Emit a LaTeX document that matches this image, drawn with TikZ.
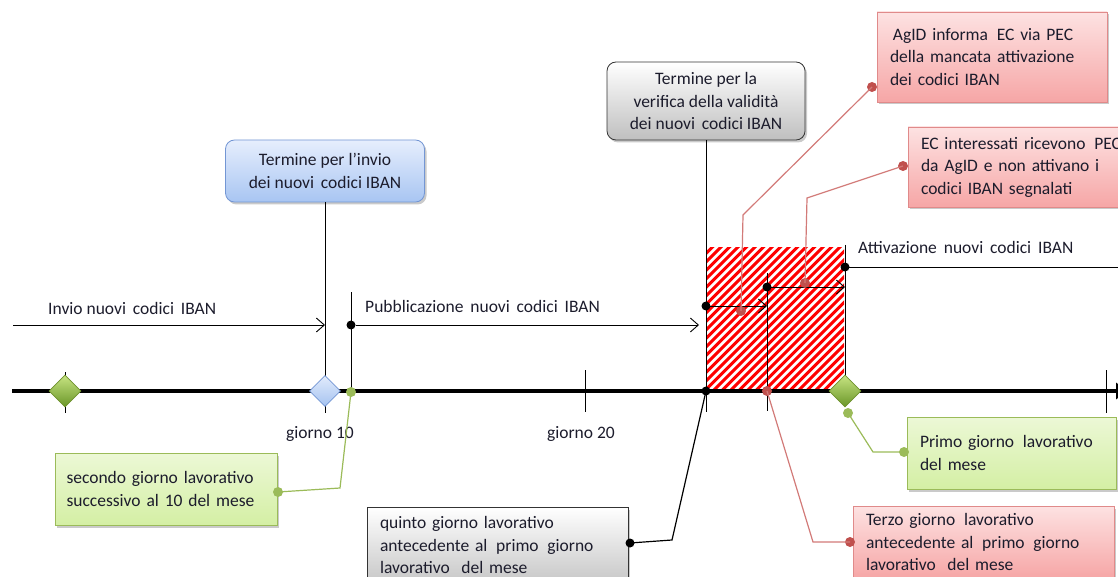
\documentclass[tikz,border=0pt]{standalone}
\usepackage{fontspec}
\setmainfont{Carlito}
\usetikzlibrary{shapes.geometric,shadows,arrows.meta}
\definecolor{txtc}{HTML}{1C1C2C}
\definecolor{redc}{HTML}{C0504D}
\definecolor{redl}{HTML}{D27A78}
\definecolor{greenc}{HTML}{9BBB59}
\definecolor{blueb}{HTML}{7396D4}
\definecolor{redb}{HTML}{E08A8A}
\definecolor{bluet}{HTML}{E6EEFD}
\definecolor{bluebt}{HTML}{A8C5F2}
\definecolor{greent}{HTML}{ECF8D6}
\definecolor{greenbt}{HTML}{D4EFA4}
\definecolor{redt}{HTML}{FDE2E2}
\definecolor{redbt}{HTML}{F6A6A6}
\definecolor{dgt}{HTML}{C8E482}
\definecolor{dgb}{HTML}{699628}
\definecolor{dgd}{HTML}{6E912D}
\definecolor{dbt}{HTML}{E2EBFC}
\definecolor{dbb}{HTML}{A5C3F0}
\tikzset{
  every node/.style={text=txtc},
  shadowed/.style={drop shadow={shadow xshift=2pt,shadow yshift=-2.5pt,opacity=0.35,fill=black!60}},
  bluebox/.style={draw=blueb,line width=0.8pt,rounded corners=9pt,top color=bluet,bottom color=bluebt,shadowed,align=center,inner sep=2pt},
  graybox/.style={draw=black!80,line width=0.8pt,rounded corners=9pt,top color=white,bottom color=black!25,shadowed,align=center,inner sep=2pt},
  greenbox/.style={draw=greenc,line width=0.8pt,top color=greent,bottom color=greenbt,shadowed,align=left,inner xsep=13pt,inner ysep=2pt},
  redbox/.style={draw=redb,line width=0.8pt,top color=redt,bottom color=redbt,shadowed,align=left,inner xsep=13pt,inner ysep=2pt},
  plainbox/.style={draw=black!80,line width=0.8pt,top color=white,bottom color=black!22,shadowed,align=left,inner xsep=13pt,inner ysep=2pt},
  gdiam/.style={diamond,aspect=1,minimum width=32pt,minimum height=32pt,inner sep=0pt,draw=dgd,line width=0.6pt,top color=dgt,bottom color=dgb},
  bdiam/.style={diamond,aspect=1,minimum width=31pt,minimum height=31pt,inner sep=0pt,draw=blueb,line width=0.6pt,top color=dbt,bottom color=dbb},
  bdot/.style={circle,fill=black,inner sep=0pt,minimum size=9pt},
  rdot/.style={circle,fill=redc,inner sep=0pt,minimum size=10pt},
  gdot/.style={circle,fill=greenc,inner sep=0pt,minimum size=10pt},
  thin/.style={line width=0.9pt,draw=black},
  oarrow/.style={thin,-{Straight Barb[length=8pt,width=14pt]}},
  rconn/.style={line width=1.2pt,draw=redl},
  gconn/.style={line width=1.2pt,draw=greenc},
  bconn/.style={line width=1.2pt,draw=black},
  lbl/.style={inner sep=0pt,anchor=west},
}
\begin{document}
\begin{tikzpicture}[x=1pt,y=-1pt,font=\fontsize{17.5}{22.5}\selectfont]
\useasboundingbox (0,0) rectangle (1118,577);
\clip (0,0) rectangle (1118,577);

% hatched area
\begin{scope}
  \clip (707,248) rectangle (844,389);
  \foreach \i in {0,...,50}{
    \draw[red,line width=3pt] (480+\i*8.5,420) -- ++(220,-220);
  }
\end{scope}

% main axis
\draw[line width=3.2pt,-{Latex[length=14pt,width=18pt]}] (12,391) -- (1130,391);

% ticks
\draw[thin] (65,372) -- (65,413);
\draw[thin] (585,370) -- (585,412);
\draw[thin] (1106,370) -- (1106,413);

% boxes
\node[bluebox,minimum width=199pt,minimum height=62pt] (tblue) at (325,171) {Termine per l’invio\\dei nuovi\, codici IBAN};
\node[graybox,minimum width=198pt,minimum height=78pt] (tgray) at (706,101) {Termine per la\\verifica della validità\\dei nuovi\, codici IBAN};
\node[redbox,minimum width=230pt,minimum height=90pt,text width=204pt,inner xsep=13pt] (agid) at (992,57) {\,AgID informa\, EC via PEC\\della mancata attivazione\\dei codici IBAN};
\node[redbox,minimum width=262pt,minimum height=80pt,text width=236pt] (ecbox) at (1039,167) {EC interessati ricevono\, PEC\\da AgID e non attivano i\\codici IBAN segnalati};
\node[greenbox,minimum width=222pt,minimum height=72pt,text width=199pt,inner xsep=11.5pt] (secondo) at (166,489) {secondo giorno lavorativo\\successivo al 10 del mese};
\node[plainbox,minimum width=261pt,minimum height=76pt,text width=235pt] (quinto) at (497.5,545) {quinto giorno lavorativo\\antecedente al\, primo\, giorno\\lavorativo\,\, del mese};
\node[greenbox,minimum width=209pt,minimum height=72pt,text width=183pt] (primo) at (1011.5,453) {Primo giorno\, lavorativo\\del mese};
\node[redbox,minimum width=261pt,minimum height=72pt,text width=235pt] (terzo) at (983.5,542) {Terzo giorno\, lavorativo\\antecedente al\, primo\, giorno\\lavorativo\,\, del mese};

% vertical lines
\draw[thin] (tblue.south) -- (325,413);
\draw[thin] (351,292) -- (351,391);
\draw[thin] (tgray.south) -- (706,412);
\draw[thin] (767,273) -- (767,411);
\draw[thin] (845,245) -- (845,391);

% dots
\node[bdot] (p1) at (351,325) {};
\node[bdot] (p2) at (706,306) {};
\node[bdot] (p3) at (767,287) {};
\node[bdot] (p4) at (845,267) {};
\node[bdot] (a20) at (706,391) {};

% arrows
\coordinate (s0) at (13,325);
\coordinate (e0) at (325,325);
\coordinate (e1) at (699,325);
\coordinate (e2) at (767,306);
\coordinate (e3) at (845,287);
\coordinate (e4) at (1125,267);
\draw[oarrow] (s0) -- (e0);
\draw[oarrow] (p1) -- (e1);
\draw[oarrow] (p2.center) -- (e2);
\draw[oarrow] (p3.center) -- (e3);
\draw[thin] (p4.center) -- (e4);

% labels
\node[lbl] (l1) at (48,308) {Invio nuovi\, codici\, IBAN};
\node[lbl] (l2) at (365,306) {Pubblicazione\, nuovi\, codici\, IBAN};
\node[lbl] (l3) at (858,247) {Attivazione\, nuovi\, codici\, IBAN};
\node (g10) at (320,434) {giorno 10};
\node (g20) at (581,434) {giorno 20};

% diamonds
\node[gdiam] (d1) at (65,391) {};
\node[bdiam] (d2) at (325,391) {};
\node[gdiam] (d3) at (845,391) {};

% connectors
\node[gdot] (c1a) at (351,392) {};
\node[gdot] (c1b) at (278,492) {};
\draw[gconn] (c1a.center) -- (340,488) -- (c1b.center);

\node[bdot] (c2b) at (630,543) {};
\draw[bconn] (a20.center) -- (672,540) -- (c2b.center);

\node[rdot] (c3a) at (767,391) {};
\node[rdot] (c3b) at (850,542) {};
\draw[rconn] (c3a.center) -- (813,542) -- (c3b.center);

\node[gdot] (c4a) at (848,413) {};
\node[gdot] (c4b) at (904,452) {};
\draw[gconn] (c4a.center) -- (873,452) -- (c4b.center);

\node[rdot] (c5a) at (741,311) {};
\node[rdot] (c5b) at (872,87) {};
\draw[rconn] (c5a.center) -- (743,215) -- (c5b.center);

\node[rdot] (c6a) at (805,283) {};
\node[rdot] (c6b) at (903,166) {};
\draw[rconn] (c6a.center) -- (807,198) -- (c6b.center);
\end{tikzpicture}
\end{document}
